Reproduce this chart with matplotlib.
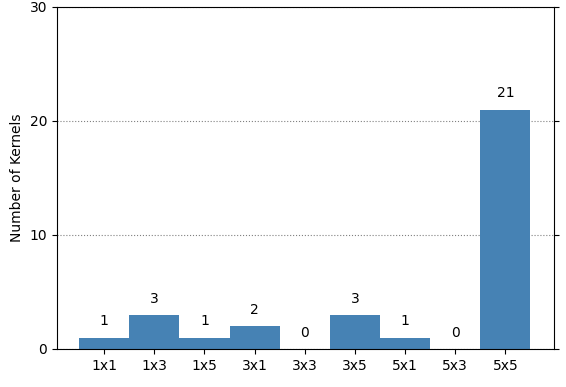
import matplotlib
matplotlib.use("Agg")
import matplotlib.pyplot as plt

categories = ["1x1", "1x3", "1x5", "3x1", "3x3", "3x5", "5x1", "5x3", "5x5"]
counts = [1, 3, 1, 2, 0, 3, 1, 0, 21]

fig = plt.figure(figsize=(5.66, 3.87), dpi=100)
ax = fig.add_axes([57/566, 1-349/387, (554-57)/566, (349-7)/387])
x = list(range(len(categories)))
ax.bar(x, counts, width=1.0, color="#4682B4", zorder=2)
for xi, v in zip(x, counts):
    ax.text(xi, v + 0.8, str(v), ha="center", va="bottom", fontsize=10)
ax.set_xticks(x)
ax.set_xticklabels(categories)
ax.set_xlim(-0.94, 8.97)
ax.set_ylim(0, 30)
ax.set_yticks([0, 10, 20, 30])
ax.yaxis.set_ticks_position("both")
ax.grid(axis="y", linestyle=":", color="gray", zorder=0)
ax.set_ylabel("Number of Kernels")
fig.savefig("out.png", dpi=100)
